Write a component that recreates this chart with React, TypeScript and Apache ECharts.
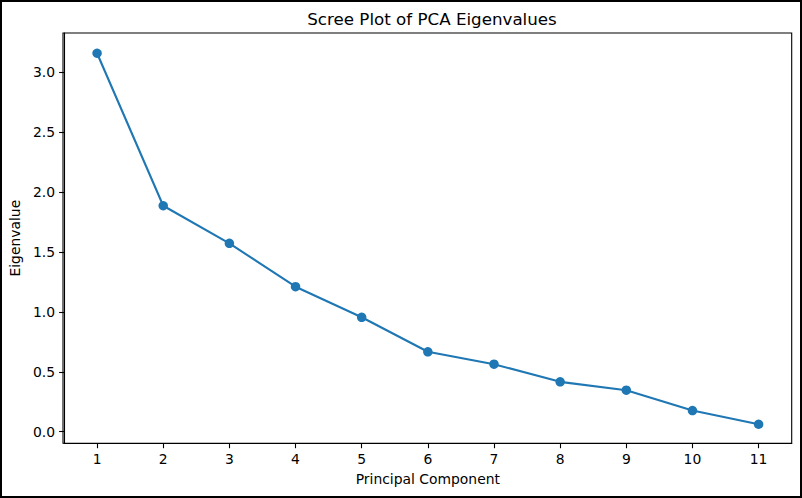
import React, { useEffect, useRef } from "react";
import * as echarts from "echarts";

const components = ["1", "2", "3", "4", "5", "6", "7", "8", "9", "10", "11"];
const eigenvalues = [3.159, 1.886, 1.572, 1.21, 0.955, 0.667, 0.563, 0.416, 0.346, 0.176, 0.062];
const yTicks = [0, 0.5, 1.0, 1.5, 2.0, 2.5, 3.0];

const FONT = "DejaVu Sans";

export default function App() {
  const ref = useRef<HTMLDivElement>(null);
  useEffect(() => {
    if (!ref.current) return;
    const chart = echarts.init(ref.current, null, { renderer: "svg" });
    chart.setOption({
      animation: false,
      backgroundColor: "#ffffff",
      title: {
        text: "Scree Plot of PCA Eigenvalues",
        left: 427,
        textAlign: "center",
        top: 5,
        textStyle: { fontFamily: FONT, fontSize: 16.7, fontWeight: "normal", color: "#000" },
      },
      graphic: [
        {
          type: "rect",
          shape: { x: 1, y: 1, width: 800, height: 496 },
          style: { fill: "none", stroke: "#000", lineWidth: 2 },
          silent: true,
        },
        {
          type: "rect",
          shape: { x: 63, y: 33, width: 728.7, height: 410.3 },
          style: { fill: "none", stroke: "#000", lineWidth: 1.1 },
          silent: true,
          z: 10,
        },
      ],
      grid: { left: 63, right: 10.3, top: 33, bottom: 54.7, containLabel: false },
      xAxis: {
        type: "category",
        data: components,
        boundaryGap: true,
        name: "Principal Component",
        nameLocation: "middle",
        nameGap: 29,
        nameTextStyle: { fontFamily: FONT, fontSize: 13.9, color: "#000" },
        axisLine: { show: true, onZero: false, lineStyle: { color: "#000", width: 1.1 } },
        axisTick: { show: true, alignWithLabel: true, length: 4.9, lineStyle: { color: "#000", width: 1.1 } },
        axisLabel: { fontFamily: FONT, fontSize: 13.9, color: "#000", margin: 9 },
        splitLine: { show: false },
      },
      yAxis: {
        type: "value",
        min: -0.097,
        max: 3.328,
        name: "Eigenvalue",
        nameLocation: "middle",
        nameGap: 38,
        nameRotate: 90,
        nameTextStyle: { fontFamily: FONT, fontSize: 13.9, color: "#000" },
        axisLine: { show: true, onZero: false, lineStyle: { color: "#000", width: 1.1 } },
        axisTick: { show: true, length: 4.9, customValues: yTicks, lineStyle: { color: "#000", width: 1.1 } },
        axisLabel: {
          fontFamily: FONT,
          fontSize: 13.9,
          color: "#000",
          margin: 9,
          customValues: yTicks,
          formatter: (v: number) => v.toFixed(1),
        },
        splitLine: { show: false },
      },
      series: [
        {
          type: "line",
          data: eigenvalues,
          symbol: "circle",
          symbolSize: 9.5,
          showSymbol: true,
          lineStyle: { color: "#1f77b4", width: 2.1 },
          itemStyle: { color: "#1f77b4" },
        },
      ],
    });
    return () => chart.dispose();
  }, []);
  return (
    <div
      ref={ref}
      style={{ position: "fixed", left: 0, top: 0, width: 802, height: 498, background: "#fff" }}
    />
  );
}
